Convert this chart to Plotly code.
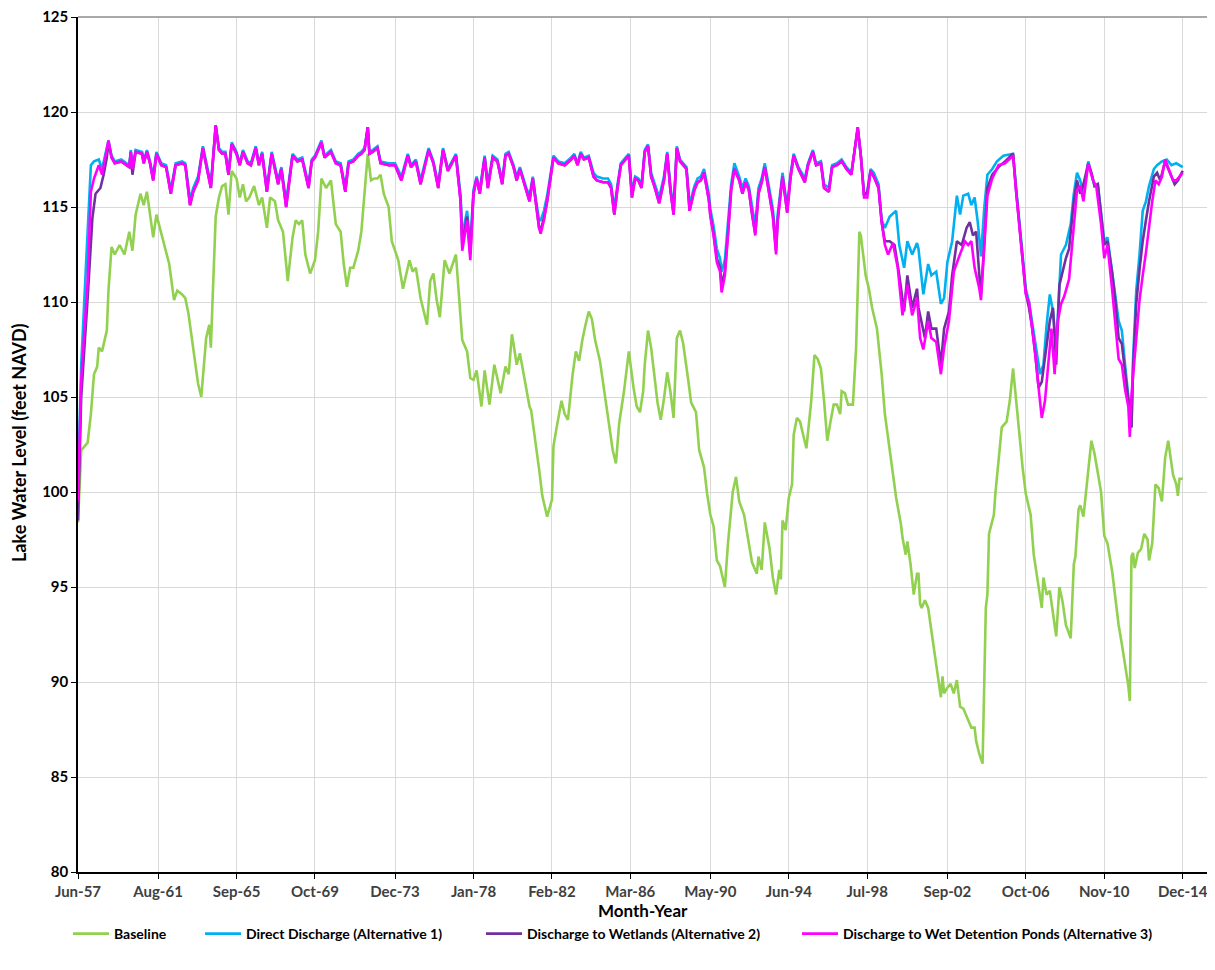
import pandas as pd
import plotly.graph_objects as go

# ---------------- data (months after Jun-1957, lake level in feet NAVD) ----------------
BASELINE = [
    (0, 98.4), (2, 102.2), (3, 102.3), (6, 102.6), (8, 104.1), (10, 106.2), (12, 106.6), (13, 107.6),
    (15, 107.4), (18, 108.5), (19, 110.6), (21, 112.9), (23, 112.5), (26, 113.0), (29, 112.5), (32, 113.7),
    (34, 112.7), (36, 114.6), (39, 115.7), (41, 115.1), (43, 115.8), (47, 113.4), (49, 114.6), (53, 113.2),
    (57, 112.0), (60, 110.1), (62, 110.6), (65, 110.4), (67, 110.2), (69, 109.4), (72, 107.4), (75, 105.7),
    (77, 105.0), (80, 108.1), (82, 108.8), (83, 107.6), (84, 110.0), (86, 114.5), (88, 115.5), (90, 116.1),
    (92, 116.2), (94, 114.6), (96, 116.9), (99, 116.5), (101, 115.5), (103, 116.2), (105, 115.3), (107, 115.5),
    (110, 116.1), (113, 115.1), (115, 115.5), (118, 113.9), (120, 115.5), (123, 115.3), (125, 114.3),
    (128, 113.7), (130, 112.0), (131, 111.1), (134, 113.4), (136, 114.3), (138, 114.1), (140, 114.3),
    (142, 112.5), (145, 111.5), (148, 112.2), (150, 113.7), (152, 116.5), (155, 116.0), (158, 116.4),
    (161, 114.1), (164, 113.7), (166, 112.0), (168, 110.8), (170, 111.8), (172, 111.8), (175, 112.7),
    (177, 113.7), (179, 115.8), (181, 117.8), (183, 116.4), (185, 116.5), (187, 116.5), (189, 116.7),
    (191, 115.7), (194, 115.0), (196, 113.2), (198, 112.7), (200, 112.2), (203, 110.7), (205, 111.5),
    (207, 112.2), (209, 111.6), (211, 111.8), (214, 110.2), (218, 108.8), (220, 111.1), (222, 111.5),
    (224, 110.1), (226, 109.2), (229, 112.2), (232, 111.5), (236, 112.5), (238, 110.4), (240, 108.0),
    (243, 107.4), (245, 106.0), (247, 105.9), (249, 106.4), (252, 104.5), (254, 106.4), (257, 104.6),
    (260, 106.7), (264, 105.2), (267, 106.6), (269, 106.2), (271, 108.3), (272, 107.8), (274, 106.7),
    (276, 107.3), (280, 105.5), (282, 104.5), (283, 104.3), (286, 102.6), (288, 101.2), (290, 99.8),
    (293, 98.7), (296, 99.6), (297, 102.4), (299, 103.4), (302, 104.8), (304, 104.1), (306, 103.8),
    (309, 106.2), (311, 107.4), (313, 106.9), (315, 108.0), (317, 108.8), (319, 109.5), (321, 109.1),
    (323, 108.0), (326, 106.9), (328, 105.7), (331, 104.0), (334, 102.2), (336, 101.5), (338, 103.6),
    (341, 105.3), (343, 106.7), (344, 107.4), (347, 105.5), (349, 104.5), (351, 104.2), (353, 105.3),
    (354, 106.7), (356, 108.5), (358, 107.6), (360, 106.0), (362, 104.7), (364, 103.8), (366, 104.9),
    (368, 106.3), (370, 105.3), (372, 103.9), (374, 108.1), (376, 108.5), (378, 107.8), (381, 106.0),
    (383, 104.7), (386, 104.2), (388, 102.2), (391, 101.3), (393, 99.9), (395, 98.8), (397, 98.2),
    (399, 96.4), (401, 96.1), (404, 95.0), (406, 97.3), (409, 100.0), (411, 100.8), (413, 99.5),
    (416, 98.8), (419, 97.3), (421, 96.3), (424, 95.7), (425, 96.6), (427, 95.9), (429, 98.4),
    (432, 97.0), (434, 95.5), (436, 94.6), (438, 95.9), (439, 95.4), (440, 98.5), (442, 98.0),
    (444, 99.7), (446, 100.4), (447, 103.0), (449, 103.9), (451, 103.7), (453, 103.0), (455, 102.3),
    (458, 104.8), (460, 107.2), (462, 107.0), (464, 106.5), (466, 104.8), (468, 102.7), (470, 103.7),
    (472, 104.6), (474, 104.6), (476, 104.1), (477, 105.3), (479, 105.2), (481, 104.6), (484, 104.6),
    (486, 107.6), (488, 113.7), (489, 113.5), (492, 111.4), (494, 110.7), (496, 109.7), (499, 108.6),
    (502, 106.2), (504, 104.1), (507, 102.3), (509, 101.1), (511, 99.7), (514, 98.3), (515, 97.6),
    (517, 96.7), (518, 97.4), (520, 96.2), (522, 94.6), (524, 95.7), (525, 95.7), (526, 94.1),
    (527, 93.9), (529, 94.3), (531, 93.9), (533, 92.7), (535, 91.5), (537, 90.4), (539, 89.2),
    (540, 90.3), (541, 89.4), (543, 89.7), (545, 89.9), (547, 89.4), (549, 90.1), (551, 88.7),
    (553, 88.6), (556, 88.0), (558, 87.6), (560, 87.6), (561, 86.9), (563, 86.2), (565, 85.7),
    (567, 93.9), (568, 94.6), (569, 97.8), (572, 98.8), (573, 99.9), (575, 101.8), (577, 103.4),
    (580, 103.7), (582, 104.8), (584, 106.5), (586, 104.8), (588, 103.0), (590, 101.3), (592, 99.9),
    (595, 98.8), (597, 96.7), (599, 95.5), (602, 93.9), (603, 95.5), (605, 94.6), (607, 94.8),
    (609, 93.6), (611, 92.4), (613, 95.0), (615, 94.2), (617, 93.0), (619, 92.6), (620, 92.3),
    (622, 96.2), (623, 96.6), (625, 99.1), (626, 99.3), (628, 98.7), (631, 101.3), (633, 102.7),
    (635, 102.0), (637, 101.1), (639, 100.0), (641, 97.7), (643, 97.3), (646, 95.8), (648, 94.4),
    (650, 93.0), (652, 92.0), (654, 91.0), (656, 89.8), (657, 89.0), (658, 96.6), (659, 96.8),
    (660, 96.0), (662, 96.8), (664, 97.0), (666, 97.8), (668, 97.5), (669, 96.4), (671, 97.3),
    (673, 100.4), (675, 100.2), (677, 99.5), (679, 101.8), (681, 102.7), (682, 102.0), (684, 100.9),
    (686, 100.4), (687, 99.8), (688, 100.7), (690, 100.7),
]

ALT1_DIRECT = [
    (0, 100.5), (2, 106.7), (5, 112.0), (8, 117.2), (10, 117.4), (13, 117.5), (15, 117.0), (19, 118.5),
    (21, 117.7), (23, 117.4), (27, 117.5), (32, 117.2), (33, 118.0), (34, 117.1), (36, 118.0), (40, 117.9),
    (41, 117.4), (43, 118.0), (45, 117.4), (47, 116.6), (49, 117.9), (52, 117.3), (55, 117.2), (58, 115.9),
    (61, 117.3), (65, 117.4), (67, 117.3), (70, 115.4), (72, 116.0), (75, 116.6), (78, 118.2), (80, 117.3),
    (83, 116.2), (86, 119.3), (88, 118.1), (90, 117.9), (92, 117.9), (94, 116.8), (96, 118.4), (99, 117.9),
    (101, 117.3), (103, 118.0), (106, 117.4), (108, 117.3), (111, 118.2), (113, 117.3), (115, 117.9),
    (118, 116.0), (121, 117.9), (125, 116.4), (127, 117.1), (130, 115.3), (134, 117.8), (137, 117.5),
    (140, 117.6), (144, 116.2), (146, 117.5), (148, 117.7), (152, 118.5), (154, 117.7), (158, 118.0),
    (161, 117.4), (164, 117.3), (167, 116.0), (169, 117.4), (172, 117.5), (175, 117.8), (177, 117.9),
    (179, 118.1), (181, 119.2), (182, 117.9), (184, 118.0), (187, 118.2), (189, 117.4), (194, 117.3),
    (198, 117.3), (202, 116.6), (206, 117.8), (208, 117.2), (211, 117.5), (214, 116.4), (219, 118.1),
    (222, 117.4), (225, 116.2), (228, 118.1), (231, 117.0), (234, 117.5), (236, 117.8), (239, 115.6),
    (240, 113.5), (243, 114.8), (245, 113.0), (247, 115.9), (249, 116.6), (251, 115.9), (254, 117.7),
    (256, 116.2), (259, 117.7), (262, 117.5), (265, 116.4), (267, 117.8), (269, 117.9), (272, 117.2),
    (274, 116.6), (276, 117.1), (280, 116.0), (282, 115.6), (284, 116.6), (286, 115.4), (288, 114.3),
    (289, 114.3), (291, 114.8), (293, 115.6), (295, 116.6), (297, 117.7), (300, 117.4), (304, 117.3),
    (308, 117.6), (310, 117.8), (312, 117.3), (314, 117.9), (316, 117.6), (319, 117.7), (322, 116.8),
    (324, 116.6), (328, 116.5), (331, 116.5), (333, 116.2), (335, 114.9), (337, 116.2), (339, 117.3),
    (342, 117.6), (344, 117.8), (346, 115.8), (348, 116.6), (350, 116.5), (352, 116.2), (354, 118.0),
    (356, 118.3), (358, 116.8), (360, 116.3), (363, 115.5), (366, 116.6), (368, 117.9), (370, 116.1),
    (372, 114.9), (374, 118.2), (376, 117.5), (380, 117.1), (382, 115.1), (385, 116.1), (387, 116.5),
    (389, 116.6), (391, 117.0), (394, 115.7), (395, 114.9), (397, 114.0), (399, 112.8), (401, 112.3),
    (402, 111.6), (404, 112.2), (406, 114.0), (408, 116.2), (410, 117.3), (413, 116.6), (415, 116.0),
    (417, 116.5), (419, 116.1), (421, 115.0), (423, 114.0), (425, 116.0), (427, 116.5), (429, 117.3),
    (431, 116.3), (434, 114.9), (436, 113.0), (437, 114.6), (440, 116.8), (443, 115.0), (445, 116.7),
    (447, 117.8), (450, 117.1), (454, 116.5), (456, 117.3), (459, 118.0), (461, 117.3), (464, 117.4),
    (466, 116.2), (469, 116.0), (471, 117.2), (474, 117.3), (477, 117.5), (480, 117.1), (483, 116.8),
    (485, 118.1), (487, 119.1), (489, 117.7), (491, 115.7), (493, 115.7), (495, 117.0), (497, 116.8),
    (500, 116.2), (502, 114.3), (504, 113.9), (507, 114.5), (511, 114.8), (513, 113.0), (516, 111.8),
    (518, 113.2), (521, 112.5), (524, 113.1), (525, 112.8), (528, 110.4), (531, 112.0), (533, 111.4),
    (536, 111.6), (539, 109.9), (541, 110.2), (543, 112.1), (546, 113.2), (549, 115.6), (551, 114.6),
    (553, 115.6), (556, 115.7), (558, 115.1), (560, 115.5), (562, 114.2), (564, 112.4), (566, 114.9),
    (568, 116.7), (571, 117.0), (574, 117.4), (578, 117.7), (584, 117.8), (586, 116.0), (588, 114.2),
    (590, 112.4), (592, 110.7), (594, 110.0), (596, 108.9), (598, 107.6), (601, 106.2), (603, 106.7),
    (605, 108.8), (607, 110.4), (609, 109.5), (611, 107.6), (613, 111.4), (614, 112.5), (617, 113.0),
    (620, 114.1), (622, 115.7), (624, 116.8), (626, 116.4), (628, 115.7), (631, 117.4), (633, 116.8),
    (635, 116.1), (637, 116.2), (639, 114.8), (641, 113.2), (643, 113.4), (646, 111.7), (648, 110.3),
    (650, 109.0), (652, 108.5), (654, 106.7), (656, 104.9), (658, 103.4), (659, 107.0), (661, 110.6),
    (663, 112.5), (665, 114.8), (667, 115.3), (669, 116.1), (672, 117.0), (674, 117.2), (677, 117.4),
    (680, 117.5), (683, 117.2), (686, 117.3), (690, 117.1),
]

ALT2_WETLANDS = [
    (0, 98.5), (2, 105.0), (6, 110.2), (9, 114.4), (11, 115.7), (14, 116.0), (16, 116.7), (18, 117.6),
    (19, 118.4), (21, 117.6), (23, 117.3), (27, 117.4), (32, 117.1), (33, 117.9), (34, 116.7), (36, 117.9),
    (40, 117.8), (41, 117.3), (43, 117.9), (45, 117.3), (47, 116.4), (49, 117.8), (52, 117.2), (55, 117.1),
    (58, 115.7), (61, 117.2), (65, 117.3), (67, 117.2), (70, 115.1), (72, 115.8), (75, 116.4), (78, 118.1),
    (80, 117.2), (83, 116.0), (86, 119.3), (88, 118.0), (90, 117.8), (92, 117.8), (94, 116.7), (96, 118.3),
    (99, 117.8), (101, 117.2), (103, 117.9), (106, 117.3), (108, 117.2), (111, 118.1), (113, 117.2),
    (115, 117.8), (118, 115.8), (121, 117.8), (125, 116.2), (127, 117.0), (130, 115.0), (134, 117.7),
    (137, 117.4), (140, 117.5), (144, 116.0), (146, 117.4), (148, 117.6), (152, 118.4), (154, 117.6),
    (158, 117.9), (161, 117.3), (164, 117.2), (167, 115.8), (169, 117.3), (172, 117.4), (175, 117.7),
    (177, 117.8), (179, 118.0), (181, 119.2), (182, 117.8), (184, 117.9), (187, 118.1), (189, 117.3),
    (194, 117.2), (198, 117.2), (202, 116.4), (206, 117.7), (208, 117.1), (211, 117.4), (214, 116.2),
    (219, 118.0), (222, 117.3), (225, 116.0), (228, 118.0), (231, 116.9), (234, 117.4), (236, 117.7),
    (239, 115.3), (240, 113.0), (243, 114.5), (245, 112.5), (247, 115.7), (249, 116.5), (251, 115.7),
    (254, 117.6), (256, 116.0), (259, 117.6), (262, 117.4), (265, 116.2), (267, 117.7), (269, 117.8),
    (272, 117.1), (274, 116.4), (276, 117.0), (280, 115.8), (282, 115.3), (284, 116.5), (286, 115.1),
    (288, 113.9), (289, 113.8), (291, 114.4), (293, 115.3), (295, 116.4), (297, 117.6), (300, 117.3),
    (304, 117.2), (308, 117.5), (310, 117.7), (312, 117.2), (314, 117.8), (316, 117.5), (319, 117.6),
    (322, 116.6), (324, 116.4), (328, 116.3), (331, 116.3), (333, 116.0), (335, 114.6), (337, 116.0),
    (339, 117.2), (342, 117.5), (344, 117.7), (346, 115.5), (348, 116.5), (350, 116.4), (352, 116.0),
    (354, 117.9), (356, 118.2), (358, 116.6), (360, 116.1), (363, 115.2), (366, 116.4), (368, 117.8),
    (370, 115.9), (372, 114.6), (374, 118.1), (376, 117.4), (380, 117.0), (382, 114.8), (385, 115.9),
    (387, 116.3), (389, 116.4), (391, 116.8), (394, 115.4), (395, 114.6), (397, 113.6), (399, 112.3),
    (401, 111.8), (402, 110.9), (404, 111.6), (406, 113.6), (408, 115.9), (410, 117.0), (413, 116.4),
    (415, 115.7), (417, 116.3), (419, 115.9), (421, 114.6), (423, 113.6), (425, 115.7), (427, 116.3),
    (429, 117.1), (431, 116.1), (434, 114.6), (436, 112.7), (437, 114.3), (440, 116.6), (443, 114.7),
    (445, 116.5), (447, 117.7), (450, 117.0), (454, 116.3), (456, 117.2), (459, 117.9), (461, 117.2),
    (464, 117.3), (466, 116.0), (469, 115.8), (471, 117.1), (474, 117.2), (477, 117.4), (480, 117.0),
    (483, 116.7), (485, 118.1), (487, 119.2), (489, 117.7), (491, 115.6), (493, 115.8), (495, 116.9),
    (497, 116.6), (500, 116.0), (502, 114.2), (504, 113.2), (507, 113.2), (510, 113.0), (513, 111.4),
    (516, 109.5), (518, 111.4), (521, 109.7), (524, 110.7), (525, 109.7), (529, 108.1), (531, 109.5),
    (533, 108.6), (536, 108.6), (539, 106.7), (541, 108.6), (544, 109.5), (546, 111.4), (549, 113.2),
    (552, 113.0), (555, 113.9), (557, 114.2), (559, 113.5), (561, 113.7), (563, 111.4), (564, 110.4),
    (566, 113.0), (568, 116.0), (571, 116.7), (575, 117.1), (579, 117.4), (584, 117.8), (586, 115.8),
    (588, 114.0), (590, 112.2), (592, 110.5), (594, 109.7), (596, 108.6), (598, 107.2), (600, 105.5),
    (602, 105.8), (605, 107.6), (607, 109.0), (609, 109.7), (611, 106.7), (613, 110.9), (615, 111.6),
    (617, 112.3), (619, 112.8), (622, 115.3), (624, 116.4), (626, 115.7), (628, 116.2), (631, 117.3),
    (633, 116.8), (635, 116.1), (637, 116.2), (639, 114.6), (641, 113.0), (643, 113.2), (646, 111.5),
    (648, 110.0), (650, 108.1), (652, 107.8), (654, 106.3), (656, 104.9), (658, 103.4), (659, 106.5),
    (661, 109.9), (663, 111.7), (665, 113.2), (667, 114.3), (669, 115.3), (672, 116.6), (674, 116.8),
    (676, 116.4), (679, 117.4), (682, 116.8), (685, 116.2), (687, 116.4), (690, 116.9),
]

ALT3_PONDS = [
    (0, 99.5), (2, 105.9), (6, 111.1), (8, 115.8), (10, 116.5), (13, 117.2), (15, 116.7), (19, 118.5),
    (21, 117.6), (23, 117.3), (27, 117.4), (32, 117.1), (33, 117.9), (34, 117.0), (36, 117.9), (40, 117.8),
    (41, 117.3), (43, 117.9), (45, 117.3), (47, 116.4), (49, 117.8), (52, 117.2), (55, 117.1), (58, 115.7),
    (61, 117.2), (65, 117.3), (67, 117.2), (70, 115.1), (72, 115.8), (75, 116.4), (78, 118.1), (80, 117.2),
    (83, 116.0), (86, 119.3), (88, 118.0), (90, 117.8), (92, 117.8), (94, 116.7), (96, 118.3), (99, 117.8),
    (101, 117.2), (103, 117.9), (106, 117.3), (108, 117.2), (111, 118.1), (113, 117.2), (115, 117.8),
    (118, 115.8), (121, 117.8), (125, 116.2), (127, 117.0), (130, 115.0), (134, 117.7), (137, 117.4),
    (140, 117.5), (144, 116.0), (146, 117.4), (148, 117.6), (152, 118.4), (154, 117.6), (158, 117.9),
    (161, 117.3), (164, 117.2), (167, 115.8), (169, 117.3), (172, 117.4), (175, 117.7), (177, 117.8),
    (179, 118.0), (181, 119.2), (182, 117.8), (184, 117.9), (187, 118.1), (189, 117.3), (194, 117.2),
    (198, 117.2), (202, 116.4), (206, 117.7), (208, 117.1), (211, 117.4), (214, 116.2), (219, 118.0),
    (222, 117.3), (225, 116.0), (228, 118.0), (231, 116.9), (234, 117.4), (236, 117.7), (239, 115.3),
    (240, 112.7), (243, 114.3), (245, 112.2), (247, 115.7), (249, 116.5), (251, 115.7), (254, 117.6),
    (256, 116.0), (259, 117.6), (262, 117.4), (265, 116.2), (267, 117.7), (269, 117.8), (272, 117.1),
    (274, 116.4), (276, 117.0), (280, 115.8), (282, 115.3), (284, 116.5), (286, 115.1), (288, 113.9),
    (289, 113.6), (291, 114.3), (293, 115.3), (295, 116.4), (297, 117.6), (300, 117.3), (304, 117.2),
    (308, 117.5), (310, 117.7), (312, 117.2), (314, 117.8), (316, 117.5), (319, 117.6), (322, 116.6),
    (324, 116.4), (328, 116.3), (331, 116.3), (333, 116.0), (335, 114.6), (337, 116.0), (339, 117.2),
    (342, 117.5), (344, 117.7), (346, 115.5), (348, 116.5), (350, 116.4), (352, 116.0), (354, 117.9),
    (356, 118.2), (358, 116.6), (360, 116.1), (363, 115.2), (366, 116.4), (368, 117.8), (370, 115.9),
    (372, 114.6), (374, 118.1), (376, 117.4), (380, 117.0), (382, 114.8), (385, 115.9), (387, 116.3),
    (389, 116.4), (391, 116.8), (394, 115.4), (395, 114.5), (397, 113.5), (399, 112.1), (401, 111.6),
    (402, 110.5), (404, 111.4), (406, 113.5), (408, 115.9), (410, 117.0), (413, 116.4), (415, 115.7),
    (417, 116.3), (419, 115.9), (421, 114.6), (423, 113.5), (425, 115.7), (427, 116.3), (429, 117.1),
    (431, 116.1), (434, 114.5), (436, 112.5), (437, 114.3), (440, 116.6), (443, 114.7), (445, 116.5),
    (447, 117.7), (450, 117.0), (454, 116.3), (456, 117.2), (459, 117.9), (461, 117.2), (464, 117.3),
    (466, 116.0), (469, 115.8), (471, 117.1), (474, 117.2), (477, 117.4), (480, 117.0), (483, 116.7),
    (485, 118.1), (487, 119.2), (489, 117.7), (491, 115.5), (493, 115.5), (495, 116.9), (497, 116.6),
    (500, 116.0), (502, 114.2), (504, 113.0), (506, 112.5), (509, 113.1), (512, 111.8), (515, 109.3),
    (518, 110.9), (521, 109.3), (524, 110.2), (526, 108.1), (528, 107.5), (531, 109.0), (533, 108.1),
    (536, 107.9), (539, 106.2), (541, 107.6), (544, 109.0), (547, 111.6), (550, 112.3), (552, 112.8),
    (554, 113.2), (556, 113.0), (558, 113.2), (560, 111.8), (563, 110.7), (564, 110.1), (566, 113.0),
    (568, 115.6), (571, 116.5), (575, 117.2), (579, 117.3), (584, 117.7), (586, 115.8), (588, 113.9),
    (590, 112.1), (592, 110.4), (594, 110.0), (596, 108.6), (598, 107.2), (600, 105.5), (602, 103.9),
    (604, 104.8), (606, 106.7), (608, 108.6), (610, 106.2), (612, 109.0), (614, 109.9), (616, 110.3),
    (619, 111.2), (622, 113.9), (624, 115.9), (626, 116.1), (628, 115.3), (631, 117.3), (634, 116.4),
    (636, 116.1), (639, 114.1), (641, 112.3), (643, 113.0), (646, 110.6), (648, 108.8), (650, 107.0),
    (652, 106.7), (654, 105.4), (656, 104.5), (657, 102.9), (658, 105.1), (660, 107.2), (662, 109.2),
    (663, 110.1), (665, 111.4), (667, 112.6), (671, 115.3), (673, 116.4), (675, 116.2), (677, 116.6),
    (679, 117.5), (682, 116.9), (684, 116.4), (686, 116.4), (688, 116.6), (690, 116.8),
]

TICK_DATES = ["1957-06-01", "1961-08-01", "1965-09-01", "1969-10-01", "1973-12-01",
              "1978-01-01", "1982-02-01", "1986-03-01", "1990-05-01", "1994-06-01",
              "1998-07-01", "2002-09-01", "2006-10-01", "2010-11-01", "2014-12-01"]
TICK_LABELS = ["Jun-57", "Aug-61", "Sep-65", "Oct-69", "Dec-73", "Jan-78", "Feb-82", "Mar-86",
               "May-90", "Jun-94", "Jul-98", "Sep-02", "Oct-06", "Nov-10", "Dec-14"]

SERIES_NAMES = ["Baseline", "Direct Discharge (Alternative 1)",
                "Discharge to Wetlands (Alternative 2)",
                "Discharge to Wet Detention Ponds (Alternative 3)"]
SERIES_DATA = [BASELINE, ALT1_DIRECT, ALT2_WETLANDS, ALT3_PONDS]
SERIES_COLORS = ["#92D050", "#00B0F0", "#7030A0", "#FF00FF"]

START = pd.Timestamp("1957-06-01")
FONT = "Lato, Liberation Sans, sans-serif"

# The page body adds an 8 px margin, so the figure is drawn 8 px in from the
# window's top-left corner; the frame below is in window pixels.
PAGE_OFF = 8
FIG_W, FIG_H = 1215 - PAGE_OFF, 970 - PAGE_OFF
L, R, T, B = 78, 1208, 17, 872          # plot-area edges in window pixels
W_PLOT, H_PLOT = R - L, B - T


def to_dates(months):
    return [START + pd.DateOffset(months=int(m)) for m in months]


def px_x(px):
    return (px - L) / W_PLOT


def px_y(py):
    return (B - py) / H_PLOT


fig = go.Figure()
legend_ids = ["legend", "legend2", "legend3", "legend4"]
for name, pts, color, lg in zip(SERIES_NAMES, SERIES_DATA, SERIES_COLORS, legend_ids):
    months = [p[0] for p in pts]
    vals = [p[1] for p in pts]
    fig.add_trace(go.Scatter(x=to_dates(months), y=vals, mode="lines", name=name,
                             legend=lg, line=dict(color=color, width=2.6)))

legend_left_px = [68, 200, 481, 797]
legend_common = dict(orientation="h", xanchor="left", yanchor="middle", y=px_y(934),
                     font=dict(family=FONT, size=14, color="#000000", weight="bold"),
                     itemwidth=36, bgcolor="rgba(0,0,0,0)", borderwidth=0)
legends = {lg: dict(x=px_x(p), **legend_common) for lg, p in zip(legend_ids, legend_left_px)}

fig.update_layout(
    width=FIG_W, height=FIG_H,
    margin=dict(l=L - PAGE_OFF, r=FIG_W - (R - PAGE_OFF), t=T - PAGE_OFF,
                b=FIG_H - (B - PAGE_OFF), autoexpand=False),
    paper_bgcolor="white", plot_bgcolor="white",
    font=dict(family=FONT, size=14, color="#000000"),
    showlegend=True,
    **legends,
    xaxis=dict(type="date", range=["1957-06-01", "2016-03-26"], automargin=False,
               tickmode="array", tickvals=TICK_DATES, ticktext=TICK_LABELS,
               showgrid=True, gridcolor="#D9D9D9", gridwidth=1,
               showline=True, linecolor="#000000", linewidth=1.5,
               ticks="outside", ticklen=5, tickcolor="#000000",
               ticklabeloverflow="allow",
               tickfont=dict(family=FONT, size=15, color="#404040", weight="bold"),
               zeroline=False),
    yaxis=dict(range=[80, 125], dtick=5, tick0=80, automargin=False,
               showgrid=True, gridcolor="#D9D9D9", gridwidth=1,
               showline=True, linecolor="#000000", linewidth=1.5, mirror=True,
               ticks="outside", ticklen=5, tickcolor="#000000",
               ticklabeloverflow="allow",
               tickfont=dict(family=FONT, size=15, color="#000000", weight="bold"),
               zeroline=False),
    shapes=[dict(type="line", xref="paper", yref="paper", x0=0, x1=1, y0=1, y1=1,
                 line=dict(color="#8C8C8C", width=1.5))],
    annotations=[
        dict(text="Month-Year", xref="paper", yref="paper", x=px_x(643), y=px_y(910),
             xanchor="center", yanchor="middle", showarrow=False,
             font=dict(family=FONT, size=17, color="#000000", weight="bold")),
        dict(text="Lake Water Level (feet NAVD)", xref="paper", yref="paper",
             x=px_x(19), y=px_y(443), xanchor="center", yanchor="middle", textangle=-90,
             showarrow=False,
             font=dict(family=FONT, size=18, color="#000000", weight="bold")),
    ],
)

fig.write_html("out.html")
